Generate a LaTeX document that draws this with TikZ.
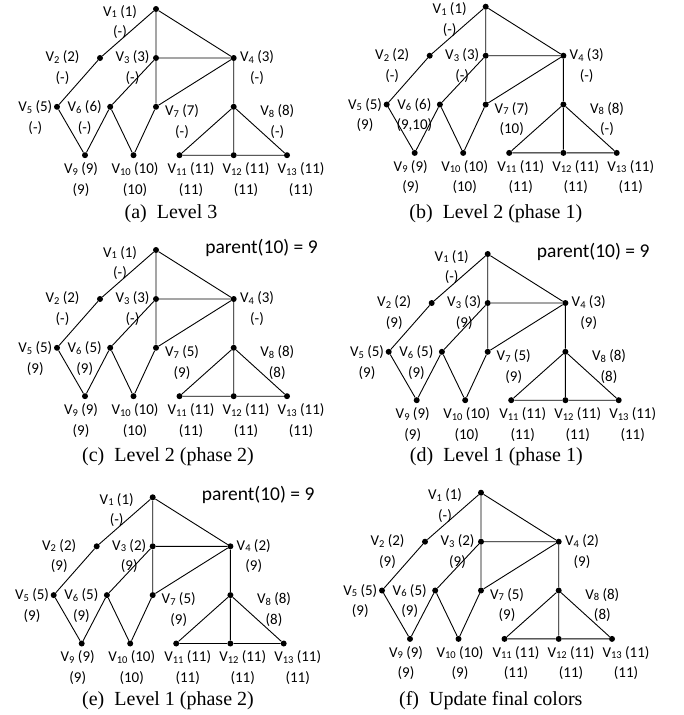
\documentclass[tikz,border=0pt]{standalone}
\usepackage{fontspec}
\newfontfamily\labfont{Carlito}
\newfontfamily\capfont{Liberation Serif}
\newcommand\sbs[1]{\raisebox{-1.6pt}{\fontsize{10.5}{10.5}\selectfont #1}}
\tikzset{
 dot/.style={circle, fill=black, inner sep=0pt, minimum size=6pt},
 edge/.style={draw=black, line width=0.9pt},
 lab/.style={font=\labfont\fontsize{15}{15}\selectfont, inner sep=0pt, text height=11pt, text depth=2pt},
 plab/.style={font=\labfont\fontsize{19.5}{20}\selectfont, inner sep=0pt, text height=14pt, text depth=4pt},
 captxt/.style={font=\capfont\fontsize{20}{20}\selectfont, inner sep=0pt, text height=13.5pt, text depth=3.5pt},
}
\newcommand\vl[6]{\node[lab] (#1a) at (#2,#3) {V\sbs{#4} (#5)};
 \node[lab, yshift=-20.5pt] (#1b) at (#2,#3) {(#6)};}
\newcommand\gp[1]{%
 \node[dot] (#1v1) at (0,0) {};
 \node[dot] (#1v2) at (-56,49) {};
 \node[dot] (#1v3) at (0,49) {};
 \node[dot] (#1v4) at (77.7,49) {};
 \node[dot] (#1v5) at (-99,97.8) {};
 \node[dot] (#1v6) at (-45.8,97.8) {};
 \node[dot] (#1v7) at (0,97.8) {};
 \node[dot] (#1v8) at (77.7,97.8) {};
 \node[dot] (#1v9) at (-71,146.2) {};
 \node[dot] (#1v10) at (-22.5,146.2) {};
 \node[dot] (#1v11) at (23.5,146.2) {};
 \node[dot] (#1v12) at (77.7,146.2) {};
 \node[dot] (#1v13) at (131,146.2) {};
 \draw[edge] (#1v1)--(#1v2) (#1v1)--(#1v3) (#1v1)--(#1v4) (#1v2)--(#1v5)
  (#1v3)--(#1v4) (#1v3)--(#1v6) (#1v3)--(#1v7) (#1v4)--(#1v7) (#1v4)--(#1v8)
  (#1v5)--(#1v9) (#1v6)--(#1v9) (#1v6)--(#1v10) (#1v7)--(#1v10)
  (#1v8)--(#1v11) (#1v8)--(#1v12) (#1v8)--(#1v13) (#1v11)--(#1v12) (#1v12)--(#1v13);}
\begin{document}
\begin{tikzpicture}[x=1pt,y=-1pt]
\useasboundingbox (0,0) rectangle (683,715);
% (a)
\begin{scope}[shift={(156,9)}]
\gp{a}
\vl{a1}{-36}{2.5}{1}{1}{-}
\vl{a2}{-93.5}{48.3}{2}{2}{-}
\vl{a3}{-23.5}{48.3}{3}{3}{-}
\vl{a4}{101}{48.3}{4}{3}{-}
\vl{a5}{-120.7}{98}{5}{5}{-}
\vl{a6}{-71.3}{98}{6}{6}{-}
\vl{a7}{26}{102}{7}{7}{-}
\vl{a8}{121.3}{102}{8}{8}{-}
\vl{a9}{-75}{160}{9}{9}{9}
\vl{a10}{-21}{160}{10}{10}{10}
\vl{a11}{35}{160}{11}{11}{11}
\vl{a12}{90}{160}{12}{11}{11}
\vl{a13}{145}{160}{13}{11}{11}
\end{scope}
% (b)
\begin{scope}[shift={(485.7,6.7)}]
\gp{b}
\vl{b1}{-36}{2.5}{1}{1}{-}
\vl{b2}{-93.5}{48.3}{2}{2}{-}
\vl{b3}{-23.5}{48.3}{3}{3}{-}
\vl{b4}{101}{48.3}{4}{3}{-}
\vl{b5}{-120.7}{98}{5}{5}{9}
\vl{b6}{-71.3}{98}{6}{6}{9,10}
\vl{b7}{26}{102}{7}{7}{10}
\vl{b8}{121.3}{102}{8}{8}{-}
\vl{b9}{-75}{160}{9}{9}{9}
\vl{b10}{-21}{160}{10}{10}{10}
\vl{b11}{35}{160}{11}{11}{11}
\vl{b12}{90}{160}{12}{11}{11}
\vl{b13}{145}{160}{13}{11}{11}
\end{scope}
% (c)
\begin{scope}[shift={(156,250)}]
\gp{c}
\node[plab] (cpar) at (105.5,-2) {parent(10) = 9};
\vl{c1}{-36}{2.5}{1}{1}{-}
\vl{c2}{-93.5}{48.3}{2}{2}{-}
\vl{c3}{-23.5}{48.3}{3}{3}{-}
\vl{c4}{101}{48.3}{4}{3}{-}
\vl{c5}{-120.7}{98}{5}{5}{9}
\vl{c6}{-71.3}{98}{6}{5}{9}
\vl{c7}{26}{102}{7}{5}{9}
\vl{c8}{121.3}{102}{8}{8}{8}
\vl{c9}{-75}{160}{9}{9}{9}
\vl{c10}{-21}{160}{10}{10}{10}
\vl{c11}{35}{160}{11}{11}{11}
\vl{c12}{90}{160}{12}{11}{11}
\vl{c13}{145}{160}{13}{11}{11}
\end{scope}
% (d)
\begin{scope}[shift={(487.7,254)}]
\gp{d}
\node[plab] (dpar) at (105.5,-2) {parent(10) = 9};
\vl{d1}{-36}{2.5}{1}{1}{-}
\vl{d2}{-93.5}{48.3}{2}{2}{9}
\vl{d3}{-23.5}{48.3}{3}{3}{9}
\vl{d4}{101}{48.3}{4}{3}{9}
\vl{d5}{-120.7}{98}{5}{5}{9}
\vl{d6}{-71.3}{98}{6}{5}{9}
\vl{d7}{26}{102}{7}{5}{9}
\vl{d8}{121.3}{102}{8}{8}{8}
\vl{d9}{-75}{160}{9}{9}{9}
\vl{d10}{-21}{160}{10}{10}{10}
\vl{d11}{35}{160}{11}{11}{11}
\vl{d12}{90}{160}{12}{11}{11}
\vl{d13}{145}{160}{13}{11}{11}
\end{scope}
% (e)
\begin{scope}[shift={(152.7,497.3)}]
\gp{e}
\node[plab] (epar) at (105.5,-2) {parent(10) = 9};
\vl{e1}{-36}{2.5}{1}{1}{-}
\vl{e2}{-93.5}{48.3}{2}{2}{9}
\vl{e3}{-23.5}{48.3}{3}{2}{9}
\vl{e4}{101}{48.3}{4}{2}{9}
\vl{e5}{-120.7}{98}{5}{5}{9}
\vl{e6}{-71.3}{98}{6}{5}{9}
\vl{e7}{26}{102}{7}{5}{9}
\vl{e8}{121.3}{102}{8}{8}{8}
\vl{e9}{-75}{160}{9}{9}{9}
\vl{e10}{-21}{160}{10}{10}{10}
\vl{e11}{35}{160}{11}{11}{11}
\vl{e12}{90}{160}{12}{11}{11}
\vl{e13}{145}{160}{13}{11}{11}
\end{scope}
% (f)
\begin{scope}[shift={(481,492.7)}]
\gp{f}
\vl{f1}{-36}{2.5}{1}{1}{-}
\vl{f2}{-93.5}{48.3}{2}{2}{9}
\vl{f3}{-23.5}{48.3}{3}{2}{9}
\vl{f4}{101}{48.3}{4}{2}{9}
\vl{f5}{-120.7}{98}{5}{5}{9}
\vl{f6}{-71.3}{98}{6}{5}{9}
\vl{f7}{26}{102}{7}{5}{9}
\vl{f8}{121.3}{102}{8}{8}{8}
\vl{f9}{-75}{160}{9}{9}{9}
\vl{f10}{-21}{160}{10}{10}{9}
\vl{f11}{35}{160}{11}{11}{11}
\vl{f12}{90}{160}{12}{11}{11}
\vl{f13}{145}{160}{13}{11}{11}
\end{scope}
% captions
\node[captxt] (capa) at (171,213) {(a)\hspace{10pt}Level 3};
\node[captxt] (capb) at (495.8,213.3) {(b)\hspace{10pt}Level 2 (phase 1)};
\node[captxt] (capc) at (168,456) {(c)\hspace{10pt}Level 2 (phase 2)};
\node[captxt] (capd) at (496.3,456) {(d)\hspace{10pt}Level 1 (phase 1)};
\node[captxt] (cape) at (168,700) {(e)\hspace{10pt}Level 1 (phase 2)};
\node[captxt] (capf) at (490.8,700) {(f)\hspace{10pt}Update final colors};
\end{tikzpicture}
\end{document}
